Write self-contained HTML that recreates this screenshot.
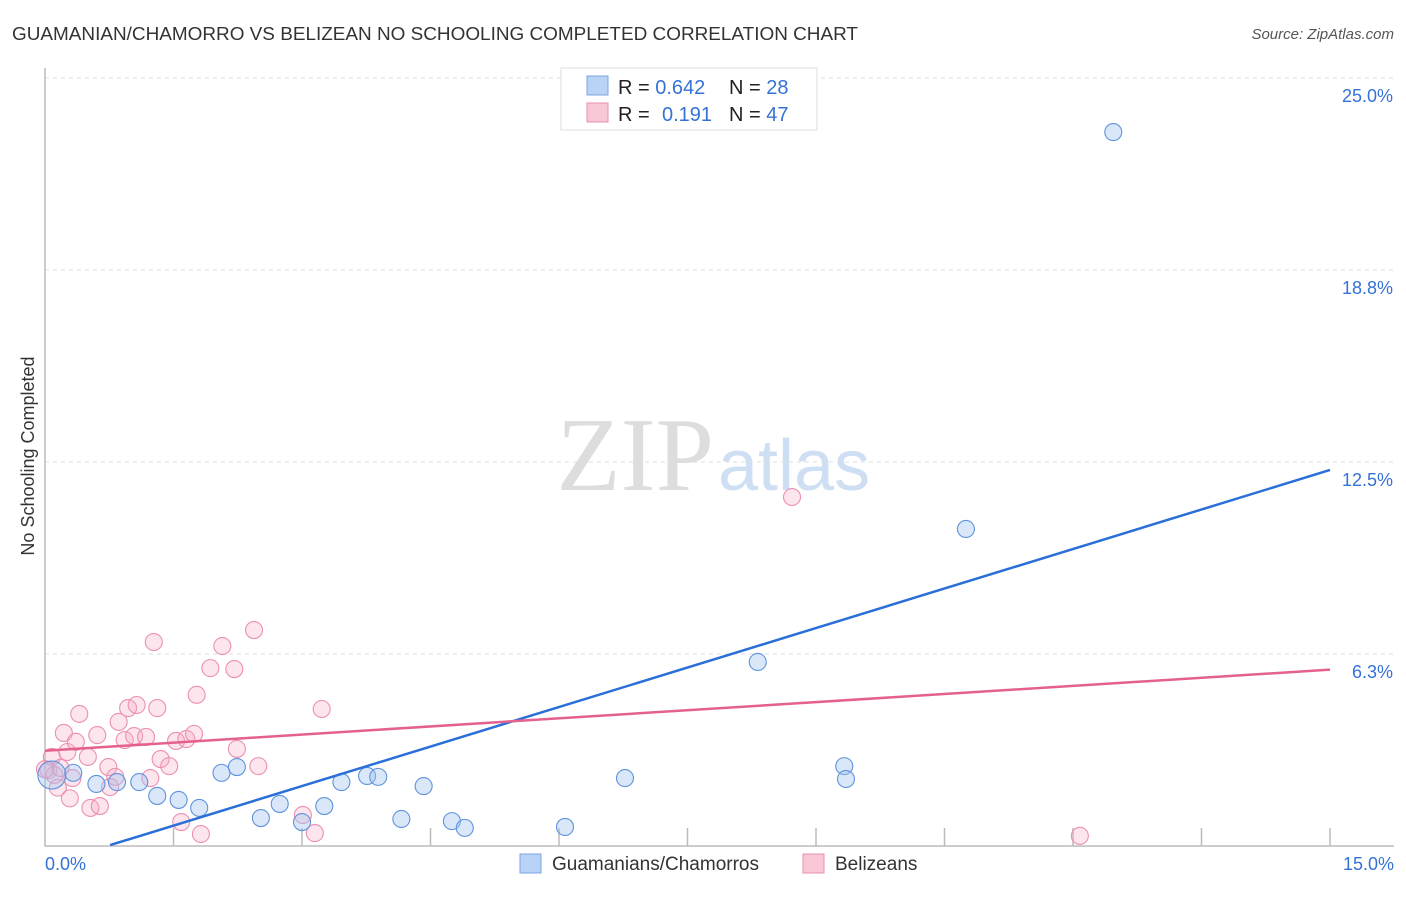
<!DOCTYPE html>
<html><head><meta charset="utf-8"><style>
body{margin:0;background:#fff;font-family:"Liberation Sans",sans-serif}
</style></head><body>
<svg width="1406" height="892">
<text x="12" y="40" font-size="18" fill="#333" textLength="846" lengthAdjust="spacingAndGlyphs">GUAMANIAN/CHAMORRO VS BELIZEAN NO SCHOOLING COMPLETED CORRELATION CHART</text>
<text x="1394" y="39" font-size="15" fill="#555" font-style="italic" text-anchor="end">Source: ZipAtlas.com</text>
<text x="714" y="490" font-size="105" fill="#ddd" text-anchor="end" font-family="Liberation Serif">ZIP</text>
<text x="718" y="490" font-size="72" fill="#cfdff3">atlas</text>
<text transform="translate(34,456) rotate(-90)" font-size="18" fill="#333" text-anchor="middle">No Schooling Completed</text>
<g id="grid"></g><g id="pts"></g><g id="lines"></g>
<rect x="561" y="68" width="256" height="62" fill="#fff" stroke="#ddd"/>
<rect x="587" y="76" width="21" height="19" fill="#b8d3f5" stroke="#7aa6e0"/>
<rect x="587" y="103" width="21" height="19" fill="#f9c6d5" stroke="#e890ad"/>
<text font-size="20" fill="#222"><tspan x="618" y="94">R = </tspan><tspan fill="#3572d6">0.642</tspan><tspan x="729">N = </tspan><tspan fill="#3572d6">28</tspan></text>
<text font-size="20" fill="#222"><tspan x="618" y="121">R = </tspan><tspan x="662" fill="#3572d6">0.191</tspan><tspan x="729">N = </tspan><tspan fill="#3572d6">47</tspan></text>
<rect x="520" y="854" width="21" height="19" fill="#b8d3f5" stroke="#7aa6e0"/>
<text x="552" y="870" font-size="19" fill="#333">Guamanians/Chamorros</text>
<rect x="803" y="854" width="21" height="19" fill="#f9c6d5" stroke="#e890ad"/>
<text x="835" y="870" font-size="19" fill="#333">Belizeans</text>
<text x="45" y="870" font-size="18" fill="#3572d6">0.0%</text>
<text x="1394" y="870" font-size="18" fill="#3572d6" text-anchor="end">15.0%</text>
</svg>
<script>
const yTicks=[6.25,12.5,18.75,25];
const yTickLabels=["6.3%","12.5%","18.8%","25.0%"];
const blueX=[0.08,0.33,0.6,0.84,1.1,1.31,1.56,1.8,2.06,2.24,2.52,2.74,3.0,3.26,3.46,3.76,3.89,4.16,4.42,4.75,4.9,6.07,6.77,8.32,9.33,9.35,10.75,12.47];
const blueY=[2.31,2.38,2.02,2.08,2.08,1.63,1.5,1.24,2.38,2.57,0.91,1.37,0.78,1.3,2.08,2.28,2.25,0.88,1.95,0.81,0.59,0.62,2.21,5.99,2.6,2.18,10.32,23.24];
const pinkX=[0.04,0.08,0.11,0.18,0.22,0.26,0.32,0.36,0.4,0.5,0.53,0.61,0.64,0.74,0.76,0.82,0.86,0.93,0.97,1.04,1.07,1.18,1.23,1.31,1.27,1.35,1.45,1.53,1.59,1.65,1.74,1.77,1.82,1.93,2.07,2.21,2.24,2.44,2.49,3.01,3.15,3.23,8.72,12.08,0.0,0.15,0.29];
const pinkY=[2.47,2.9,2.31,2.54,3.68,3.06,2.21,3.39,4.3,2.9,1.24,3.61,1.3,2.57,1.92,2.25,4.04,3.45,4.49,3.58,4.59,3.55,2.21,4.49,6.64,2.83,2.6,3.42,0.78,3.48,3.65,4.92,0.39,5.79,6.51,5.76,3.16,7.03,2.6,1.01,0.42,4.46,11.36,0.33,2.5,1.9,1.55];
const blueLine=[[0.76,0.03],[15,12.24]];
const pinkLine=[[0,3.1],[15,5.74]];
const X=v=>45+v/15*1285, Y=v=>846-v/25*768;
const NS="http://www.w3.org/2000/svg";
function mk(t,a,p){const e=document.createElementNS(NS,t);for(const k in a)e.setAttribute(k,a[k]);document.getElementById(p).appendChild(e);return e;}
yTicks.forEach((t,i)=>{
 const l=mk('line',{x1:45,x2:1394,y1:Y(t),y2:Y(t),stroke:'#ddd','stroke-dasharray':'4,4'},'grid');
 
 
 const tx=mk('text',{x:1393,y:Y(t)+24,'font-size':18,fill:'#3572d6','text-anchor':'end'},'grid');
 tx.textContent=yTickLabels[i];
 
 
});
for(let i=1;i<=10;i++){
 const l=mk('line',{x1:X(i*1.5),x2:X(i*1.5),y1:846,y2:828,stroke:'#bbb','stroke-width':1.5},'grid');
 
 
}
const ax=mk('path',{d:'M45,68 V846 H1394',fill:'none',stroke:'#bbb','stroke-width':1.5},'grid');


pinkX.forEach((x,i)=>{
 const c=mk('circle',{cx:X(x),cy:Y(pinkY[i]),r:8.5,fill:'rgba(246,170,195,0.3)',stroke:'#ec8fb0','stroke-width':1.1},'pts');
 
 
});
blueX.forEach((x,i)=>{
 const c=mk('circle',{cx:X(x),cy:Y(blueY[i]),r:i==0?14:8.5,fill:'rgba(160,195,240,0.4)',stroke:'#5f93dd','stroke-width':1.1},'pts');
 
 
});
const bl=mk('line',{x1:X(blueLine[0][0]),y1:Y(blueLine[0][1]),x2:X(blueLine[1][0]),y2:Y(blueLine[1][1]),stroke:'#2a6fd8','stroke-width':2.5},'lines');


const pl=mk('line',{x1:X(pinkLine[0][0]),y1:Y(pinkLine[0][1]),x2:X(pinkLine[1][0]),y2:Y(pinkLine[1][1]),stroke:'#e4608d','stroke-width':2.5},'lines');


</script>
</body></html>
